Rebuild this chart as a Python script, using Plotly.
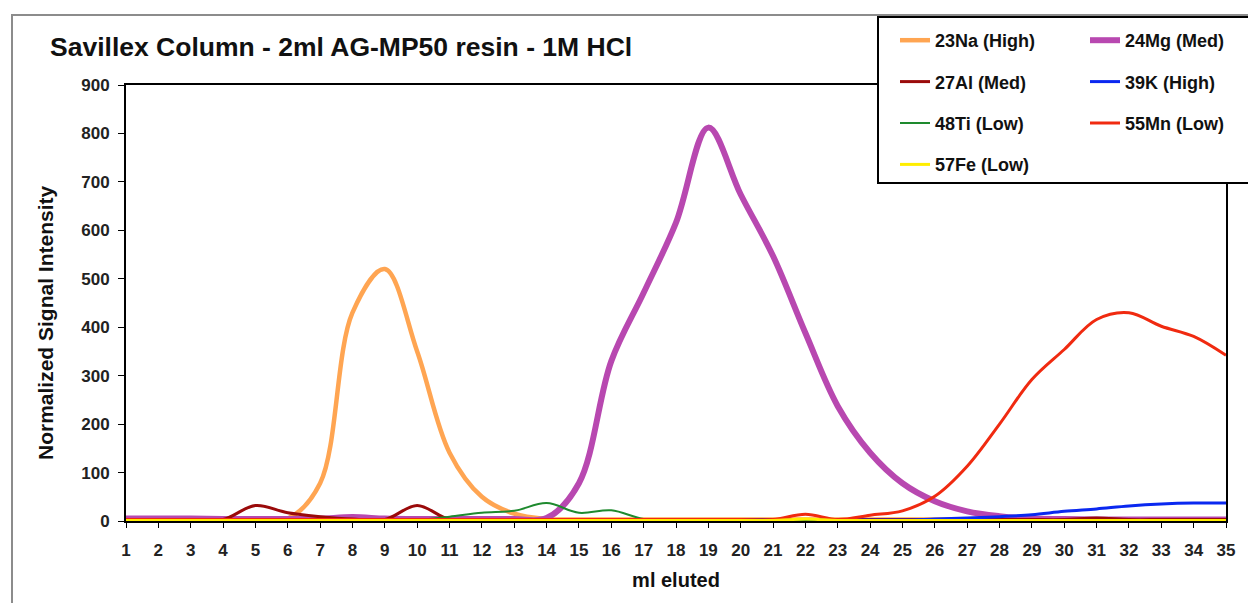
import plotly.graph_objects as go

# Elution volume (ml) and normalized signal per isotope
ml = list(range(1, 36))

na23 = [5, 5, 5, 4, 4, 5, 78, 430, 520, 350, 141, 50, 15, 4, 3, 3, 3, 3, 3, 3,
        3, 3, 3, 3, 3, 3, 3, 3, 3, 3, 3, 3, 3, 3, 3]
mg24 = [5, 5, 5, 4, 4, 4, 5, 8, 5, 4, 4, 4, 4, 6, 78, 330, 471, 616, 812, 674,
        547, 388, 237, 141, 78, 41, 20, 10, 5, 4, 3, 3, 3, 3, 3]
al27 = [3, 3, 3, 3, 32, 17, 9, 4, 3, 32, 3, 3, 3, 3, 3, 3, 3, 3, 3, 3,
        3, 3, 3, 3, 3, 3, 3, 3, 3, 3, 6, 3, 3, 3, 3]
k39 = [2, 2, 2, 2, 2, 2, 2, 2, 2, 2, 2, 2, 2, 2, 2, 2, 2, 2, 2, 2,
       2, 2, 2, 2, 2, 4, 6, 9, 13, 20, 25, 31, 35, 37, 37]
ti48 = [2, 2, 2, 2, 2, 2, 2, 2, 2, 2, 9, 17, 21, 37, 17, 22, 4, 2, 2, 2,
        2, 2, 2, 2, 2, 2, 2, 2, 2, 2, 2, 2, 2, 2, 2]
mn55 = [3, 3, 3, 3, 3, 3, 3, 3, 3, 3, 3, 3, 3, 3, 3, 3, 3, 3, 3, 3,
        3, 14, 3, 12, 21, 51, 113, 200, 292, 354, 416, 430, 402, 381, 342]
fe57 = [1, 1, 1, 1, 1, 1, 1, 1, 1, 1, 1, 1, 1, 1, 1, 1, 1, 1, 1, 1,
        1, 4, 1, 1, 1, 1, 1, 1, 1, 1, 1, 1, 1, 1, 1]

y_ticks = [0, 100, 200, 300, 400, 500, 600, 700, 800, 900]

series = [
    ("23Na (High)", na23, "#FFA552", 4.5, "legend"),
    ("24Mg (Med)", mg24, "#B848B0", 6.0, "legend2"),
    ("27Al (Med)", al27, "#9A0A0A", 3.0, "legend"),
    ("39K (High)", k39, "#0A28F0", 3.0, "legend2"),
    ("48Ti (Low)", ti48, "#1E8A2E", 2.0, "legend"),
    ("55Mn (Low)", mn55, "#F02A10", 3.0, "legend2"),
    ("57Fe (Low)", fe57, "#FFEE00", 3.0, "legend"),
]

FONT = "Liberation Sans, Arial, sans-serif"
W, H = 1248, 603
L, R, T, B = 126, 22, 85, 82
PW, PH = W - L - R, H - T - B


def px_x(p):
    return (p - L) / PW


def px_y(p):
    return (H - B - p) / PH


fig = go.Figure()
for i, (name, vals, color, width, leg) in enumerate(series):
    fig.add_trace(go.Scatter(
        x=ml, y=vals, mode="lines", name=name,
        line=dict(color=color, width=width, shape="spline", smoothing=1.0),
        legend=leg, legendgroup=f"g{i}",
    ))

tick_font = dict(family=FONT, size=17, color="#222222", weight="bold")
legend_font = dict(family=FONT, size=18, color="#111111", weight="bold")

fig.update_layout(
    width=W, height=H,
    margin=dict(l=L, r=R, t=T, b=B),
    paper_bgcolor="white", plot_bgcolor="white",
    title=dict(
        text="Savillex Column - 2ml AG-MP50 resin - 1M HCl",
        font=dict(family=FONT, size=26.5, color="#111111", weight="bold"),
        x=50 / W, xref="container", xanchor="left",
        y=1 - 47 / H, yref="container", yanchor="middle",
    ),
    xaxis=dict(
        range=[1, 35], tickmode="array", tickvals=ml, ticktext=[str(v) for v in ml],
        showgrid=False, zeroline=False,
        showline=True, linecolor="black", linewidth=2, mirror=True,
        ticks="outside", ticklen=5, tickwidth=1, tickcolor="black",
        tickfont=tick_font, ticklabelstandoff=8,
        title=dict(text="ml eluted", standoff=14,
                   font=dict(family=FONT, size=20, color="#111111", weight="bold")),
    ),
    yaxis=dict(
        range=[0, 900], tickmode="array", tickvals=y_ticks,
        showgrid=False, zeroline=False,
        showline=True, linecolor="black", linewidth=2, mirror=True,
        ticks="outside", ticklen=6, tickwidth=1, tickcolor="black",
        tickfont=tick_font, ticklabelstandoff=5,
    ),
    annotations=[
        # y-axis caption, set a little below the plot-area centre
        dict(text="Normalized Signal Intensity", textangle=-90,
             xref="paper", yref="paper", x=px_x(45), y=px_y(323),
             xanchor="center", yanchor="middle", showarrow=False,
             font=dict(family=FONT, size=21, color="#111111", weight="bold")),
    ],
    legend=dict(
        x=px_x(895), y=px_y(22), xanchor="left", yanchor="top",
        bgcolor="rgba(0,0,0,0)", borderwidth=0, tracegroupgap=15,
        font=legend_font, itemwidth=30,
    ),
    legend2=dict(
        x=px_x(1085), y=px_y(22), xanchor="left", yanchor="top",
        bgcolor="rgba(0,0,0,0)", borderwidth=0, tracegroupgap=15,
        font=legend_font, itemwidth=30,
    ),
    shapes=[
        # outer chart-area frame
        dict(type="rect", xref="paper", yref="paper",
             x0=px_x(12), x1=px_x(1262), y0=px_y(15), y1=px_y(618),
             line=dict(color="#8C8C8C", width=2), fillcolor="rgba(0,0,0,0)",
             layer="below"),
        # legend box
        dict(type="rect", xref="paper", yref="paper",
             x0=px_x(878), x1=px_x(1262), y0=px_y(17), y1=px_y(183),
             line=dict(color="black", width=2), fillcolor="white",
             layer="above"),
    ],
)

fig.write_html("out.html")
